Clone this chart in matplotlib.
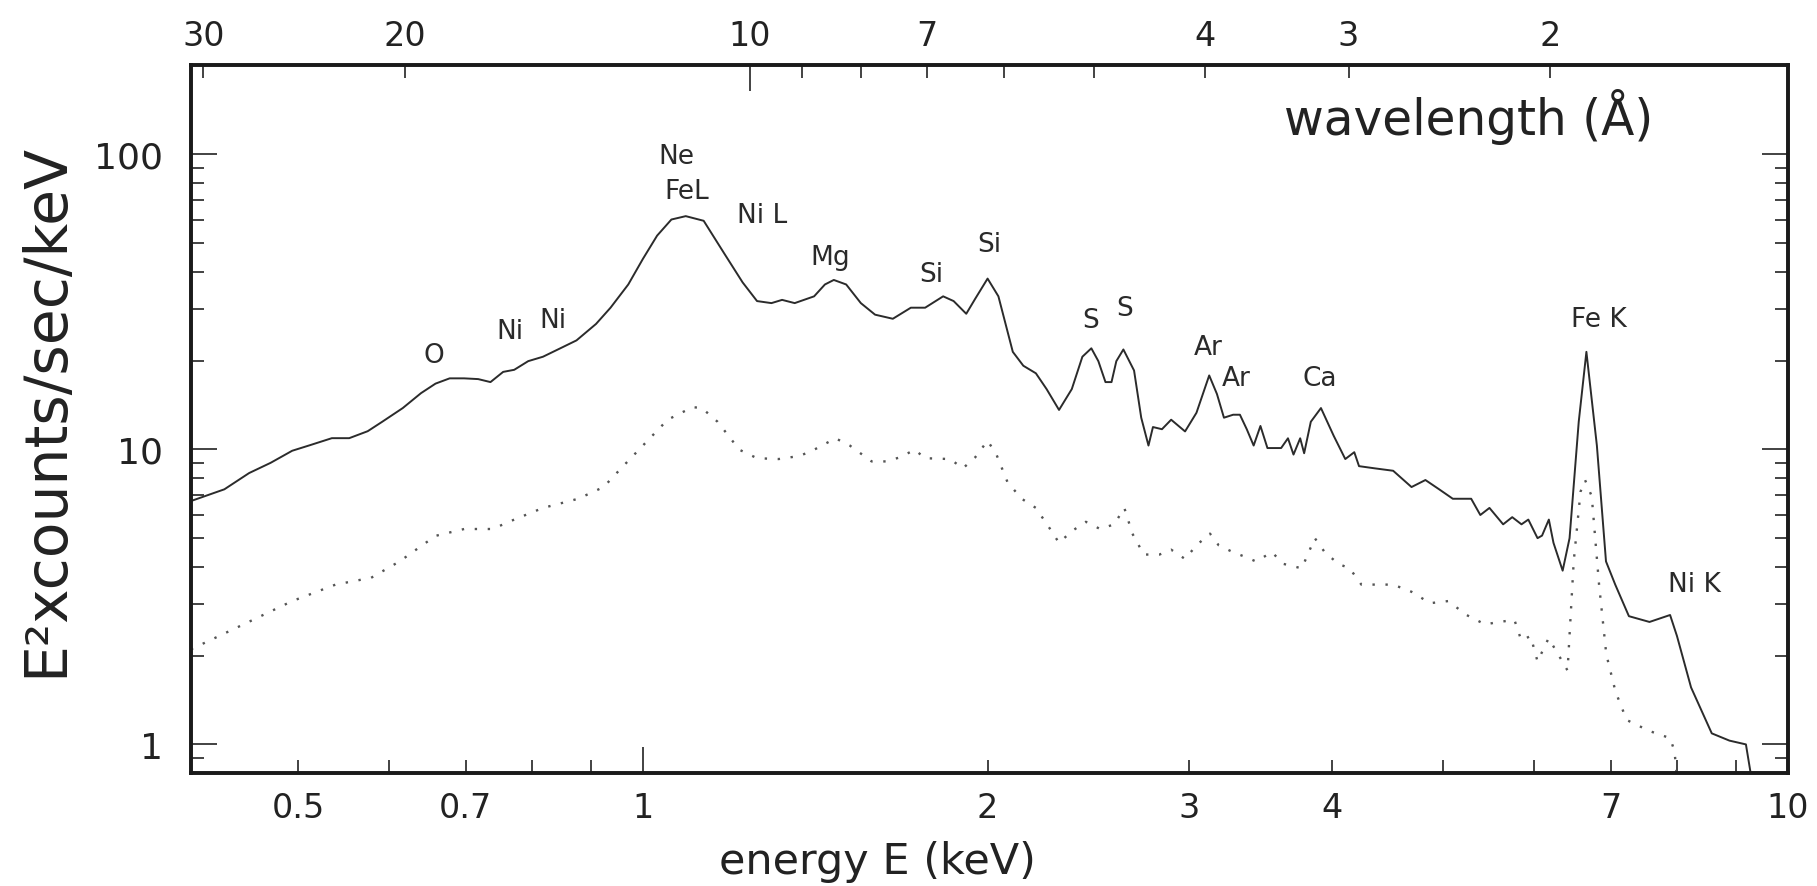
import numpy as np
import matplotlib
matplotlib.use("Agg")
import matplotlib.pyplot as plt
from matplotlib.ticker import LogLocator, NullFormatter

plt.rcParams["font.family"] = ["DejaVu Sans"]

HC = 12.398  # keV * Angstrom

# ---- data ----
energy_total = [0.403, 0.431, 0.453, 0.473, 0.494, 0.512, 0.535, 0.554, 0.575, 0.592,
                0.617, 0.640, 0.659, 0.678, 0.698, 0.718, 0.736, 0.755, 0.772, 0.794,
                0.818, 0.847, 0.875, 0.910, 0.937, 0.971, 1.000, 1.029, 1.059, 1.090,
                1.130, 1.179, 1.222, 1.258, 1.295, 1.323, 1.357, 1.411, 1.442, 1.468,
                1.505, 1.550, 1.595, 1.653, 1.714, 1.764, 1.829, 1.868, 1.916, 1.951,
                2.000, 2.044, 2.104, 2.149, 2.204, 2.252, 2.309, 2.369, 2.420, 2.464,
                2.499, 2.535, 2.566, 2.591, 2.628, 2.685, 2.724, 2.764, 2.789, 2.840,
                2.893, 2.975, 3.044, 3.123, 3.172, 3.217, 3.277, 3.322, 3.368, 3.415,
                3.462, 3.511, 3.609, 3.659, 3.700, 3.750, 3.780, 3.831, 3.910, 4.012,
                4.106, 4.181, 4.221, 4.358, 4.521, 4.691, 4.824, 4.959, 5.097, 5.289,
                5.387, 5.487, 5.640, 5.744, 5.852, 5.933, 6.044, 6.099, 6.183, 6.241,
                6.357, 6.446, 6.566, 6.668, 6.810, 6.936, 7.066, 7.263, 7.570, 7.890,
                8.000, 8.230, 8.580, 8.890, 9.190, 9.330]
flux_total = [6.68, 7.32, 8.31, 9.00, 9.89, 10.33, 10.91, 10.91, 11.52, 12.4,
              13.8, 15.5, 16.7, 17.4, 17.4, 17.3, 16.9, 18.3, 18.6, 19.9,
              20.6, 22.0, 23.4, 26.6, 30.2, 36.2, 44.2, 53.0, 60.1, 61.7,
              59.5, 45.8, 36.8, 31.8, 31.3, 32.1, 31.3, 33.0, 36.2, 37.5,
              36.2, 31.3, 28.6, 27.7, 30.2, 30.2, 33.0, 31.8, 28.8, 32.4,
              37.9, 33.0, 21.4, 19.2, 18.1, 16.0, 13.6, 16.0, 20.6, 22.0,
              19.9, 16.9, 16.9, 19.9, 21.8, 18.5, 12.8, 10.3, 11.9, 11.7,
              12.6, 11.5, 13.3, 17.8, 15.4, 12.8, 13.1, 13.1, 11.7, 10.3,
              12.0, 10.1, 10.1, 10.9, 9.6, 10.9, 9.7, 12.4, 13.8, 11.1,
              9.27, 9.78, 8.77, 8.62, 8.46, 7.45, 7.87, 7.32, 6.80, 6.80,
              5.99, 6.33, 5.57, 5.89, 5.57, 5.78, 5.00, 5.10, 5.78, 4.82,
              3.88, 5.00, 12.4, 21.4, 10.3, 4.17, 3.48, 2.72, 2.60, 2.745,
              2.33, 1.56, 1.09, 1.03, 1.00, 0.70]

energy_comp = [0.403, 0.444, 0.494, 0.539, 0.579, 0.613, 0.659, 0.698, 0.739, 0.772,
               0.818, 0.878, 0.924, 0.957, 1.000, 1.051, 1.105, 1.126, 1.162, 1.214,
               1.258, 1.314, 1.371, 1.411, 1.473, 1.516, 1.584, 1.630, 1.678, 1.727,
               1.764, 1.855, 1.903, 1.951, 2.000, 2.036, 2.082, 2.142, 2.204, 2.268,
               2.309, 2.369, 2.437, 2.508, 2.580, 2.633, 2.676, 2.738, 2.826, 2.893,
               2.975, 3.044, 3.128, 3.183, 3.277, 3.368, 3.430, 3.543, 3.626, 3.762,
               3.862, 3.940, 4.050, 4.143, 4.241, 4.358, 4.521, 4.691, 4.869, 5.050,
               5.240, 5.440, 5.590, 5.770, 5.850, 5.960, 6.044, 6.180, 6.300, 6.420,
               6.500, 6.590, 6.650, 6.740, 6.840, 6.940, 7.070, 7.230, 7.570, 7.890,
               7.960, 8.020]
flux_comp = [2.10, 2.51, 3.06, 3.48, 3.67, 4.17, 5.09, 5.37, 5.37, 5.78,
             6.33, 6.80, 7.45, 8.62, 10.3, 12.6, 13.9, 13.8, 12.4, 9.97,
             9.33, 9.27, 9.50, 9.97, 10.9, 10.3, 9.10, 9.10, 9.40, 9.97,
             9.33, 9.27, 8.62, 9.40, 10.7, 9.60, 7.73, 6.80, 6.33, 5.37,
             4.82, 5.28, 5.68, 5.37, 5.57, 6.33, 5.18, 4.40, 4.40, 4.57,
             4.25, 4.73, 5.18, 4.73, 4.48, 4.30, 4.17, 4.48, 4.09, 3.95,
             5.00, 4.48, 4.09, 3.95, 3.48, 3.48, 3.48, 3.29, 3.01, 3.06,
             2.745, 2.55, 2.60, 2.64, 2.25, 2.33, 1.91, 2.29, 2.02, 1.78,
             4.17, 7.19, 7.87, 6.93, 3.48, 2.02, 1.51, 1.21, 1.11, 1.05,
             0.95, 0.70]

line_labels = ["O", "Ni", "Ni", "Ne", "FeL", "Ni L", "Mg", "Si", "Si", "S", "S",
               "Ar", "Ar", "Ca", "Fe K", "Ni K"]
line_label_E = [0.657, 0.766, 0.834, 1.070, 1.093, 1.272, 1.458, 1.787, 2.005, 2.459,
                2.634, 3.114, 3.298, 3.903, 6.84, 8.28]
line_label_flux = [20.8, 25.2, 27.5, 98.9, 74.8, 62.4, 45.0, 39.3, 49.6, 27.5,
                   30.2, 22.2, 17.5, 17.5, 27.7, 3.50]

x_tick_values = [0.5, 0.7, 1, 2, 3, 4, 7, 10]
x_tick_labels = ["0.5", "0.7", "1", "2", "3", "4", "7", "10"]
x_unlabeled = [0.6, 0.8, 0.9, 5, 6, 8, 9]
x_long = [1, 10]
y_tick_values = [1, 10, 100]
y_tick_labels = ["1", "10", "100"]
wl_tick_values = [30, 20, 10, 7, 4, 3, 2]
wl_tick_labels = ["30", "20", "10", "7", "4", "3", "2"]
wl_unlabeled = [9, 8, 6, 5]
wl_long = [10]

# ---- figure ----
fig = plt.figure(figsize=(18.17, 8.87), dpi=100)
ax = fig.add_axes([0.1051, 0.1274, 0.8789, 0.7977])

line_color = "#2b2b2b"
ax.plot(energy_total, flux_total, color=line_color, lw=1.4, solid_joinstyle="round")
ax.plot(energy_comp, flux_comp, color="#555555", lw=1.7, linestyle=(0, (1, 4.5)))

ax.set_xscale("log")
ax.set_yscale("log")
ax.set_xlim(0.403, 10.0)
ax.set_ylim(0.8, 200)

for lab, e, f in zip(line_labels, line_label_E, line_label_flux):
    ax.text(e, f, lab, ha="center", va="center", fontsize=19, color="#2a2a2a")

# bottom axis ticks
maj_len, min_len = 19, 9.5
long_x = [v for v in x_tick_values + x_unlabeled if v in x_long]
short_x = [v for v in x_tick_values + x_unlabeled if v not in x_long]
ax.set_xticks(long_x, labels=[x_tick_labels[x_tick_values.index(v)] for v in long_x])
ax.set_xticks(short_x, labels=[x_tick_labels[x_tick_values.index(v)] if v in x_tick_values else ""
                               for v in short_x], minor=True)
ax.set_yticks(y_tick_values, labels=y_tick_labels)
ax.yaxis.set_minor_locator(LogLocator(base=10, subs=np.arange(2, 10)))
ax.yaxis.set_minor_formatter(NullFormatter())

ax.tick_params(axis="both", which="both", direction="in", width=1.2, colors="#222222")
ax.tick_params(axis="both", which="major", length=maj_len)
ax.tick_params(axis="both", which="minor", length=min_len)
ax.tick_params(axis="y", which="both", right=True, left=True, labelsize=26, pad=20)
ax.tick_params(axis="x", which="both", labelsize=24, pad=13)

for s in ax.spines.values():
    s.set_linewidth(2.6)
    s.set_color("#1a1a1a")

# top wavelength axis
ax2 = ax.twiny()
ax2.set_xscale("log")
ax2.set_xlim(ax.get_xlim())
wl_all = wl_tick_values + wl_unlabeled
long_w = [w for w in wl_all if w in wl_long]
short_w = [w for w in wl_all if w not in wl_long]
ax2.set_xticks([HC / w for w in long_w],
               labels=[wl_tick_labels[wl_tick_values.index(w)] for w in long_w])
ax2.set_xticks([HC / w for w in short_w],
               labels=[wl_tick_labels[wl_tick_values.index(w)] if w in wl_tick_values else ""
                       for w in short_w], minor=True)
ax2.tick_params(axis="x", which="both", direction="in", width=1.2, labelsize=24, pad=10,
                colors="#222222")
ax2.tick_params(axis="x", which="major", length=maj_len)
ax2.tick_params(axis="x", which="minor", length=min_len)
for s in ax2.spines.values():
    s.set_linewidth(2.6)
    s.set_color("#1a1a1a")

ax.text(0.800, 0.928, "wavelength (Å)", transform=ax.transAxes, ha="center", va="center",
        fontsize=35, color="#222222")

ax.set_xlabel("energy E (keV)", fontsize=31, color="#222222", va="baseline")
ax.xaxis.set_label_coords(0.4296, -0.1415)
ax.set_ylabel("E²xcounts/sec/keV", fontsize=42, color="#222222", va="center")
ax.yaxis.set_label_coords(-0.0908, 0.514)

fig.savefig("out.png", dpi=100)
